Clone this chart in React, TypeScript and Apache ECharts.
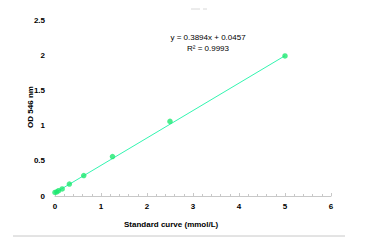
import React, { useEffect, useRef } from "react";
import * as echarts from "echarts";

const concentrations = [0, 0.039, 0.078, 0.156, 0.3125, 0.625, 1.25, 2.5, 5];
const odValues = [0.05, 0.06, 0.075, 0.1, 0.17, 0.29, 0.56, 1.06, 1.99];
const fitSlope = 0.3894;
const fitIntercept = 0.0457;
const fitRange = [0, 5];
const xTicks = [0, 1, 2, 3, 4, 5, 6];
const yTicks = [0, 0.5, 1, 1.5, 2, 2.5];

export default function App() {
  const ref = useRef<HTMLDivElement>(null);
  useEffect(() => {
    if (!ref.current) return;
    const chart = echarts.init(ref.current, null, { renderer: "svg" });
    const font = "'Liberation Sans', Arial, sans-serif";
    chart.setOption({
      animation: false,
      backgroundColor: "#fff",
      grid: { left: 55, right: 38, top: 20, bottom: 49 },
      xAxis: {
        type: "value",
        min: xTicks[0],
        max: xTicks[xTicks.length - 1],
        interval: 1,
        axisLine: { show: true, lineStyle: { color: "#c8c8c8", width: 1 } },
        axisTick: { show: true, inside: true, length: 3, lineStyle: { color: "#c8c8c8" } },
        minorTick: { show: true, splitNumber: 5, length: 2, lineStyle: { color: "#c8c8c8" } },
        splitLine: { show: false },
        axisLabel: { color: "#000", fontSize: 8, fontWeight: "bold", fontFamily: font, margin: 6 },
      },
      yAxis: {
        type: "value",
        min: yTicks[0],
        max: yTicks[yTicks.length - 1],
        interval: 0.5,
        axisLine: { show: false },
        axisTick: { show: false },
        splitLine: { show: false },
        axisLabel: { color: "#000", fontSize: 8, fontWeight: "bold", fontFamily: font, margin: 10 },
      },
      graphic: [
        {
          type: "text",
          left: 124,
          top: 220,
          style: { text: "Standard curve (mmol/L)", fill: "#000", fontSize: 8, fontWeight: "bold", fontFamily: font },
        },
        {
          type: "text",
          x: 30,
          y: 107,
          rotation: Math.PI / 2,
          style: {
            text: "OD 546 nm",
            fill: "#000",
            fontSize: 8,
            fontWeight: "bold",
            fontFamily: font,
            align: "center",
            verticalAlign: "middle",
          },
        },
        {
          type: "text",
          x: 208,
          y: 37,
          style: {
            text: "y = " + fitSlope + "x + " + fitIntercept,
            fill: "#000",
            fontSize: 8,
            fontFamily: font,
            align: "center",
            verticalAlign: "middle",
          },
        },
        {
          type: "text",
          x: 208,
          y: 48,
          style: {
            text: "R² = 0.9993",
            fill: "#000",
            fontSize: 8,
            fontFamily: font,
            align: "center",
            verticalAlign: "middle",
          },
        },
        { type: "line", shape: { x1: 13, y1: 236, x2: 345, y2: 236 }, style: { stroke: "#c8c8c8", lineWidth: 1 } },
        { type: "line", shape: { x1: 191, y1: 9, x2: 200, y2: 9 }, style: { stroke: "#d8d8d8", lineWidth: 1 } },
        { type: "line", shape: { x1: 203, y1: 9, x2: 207, y2: 9 }, style: { stroke: "#d8d8d8", lineWidth: 1 } },
      ],
      series: [
        {
          type: "line",
          data: fitRange.map((x) => [x, fitIntercept + fitSlope * x]),
          symbol: "none",
          lineStyle: { color: "#33f5b0", width: 1 },
          z: 1,
        },
        {
          type: "scatter",
          data: concentrations.map((c, i) => [c, odValues[i]]),
          symbolSize: 5.5,
          itemStyle: { color: "#1ee870" },
          z: 2,
        },
      ],
    });
    return () => chart.dispose();
  }, []);
  return <div ref={ref} style={{ width: 369, height: 245, position: "absolute", left: 0, top: 0 }} />;
}
